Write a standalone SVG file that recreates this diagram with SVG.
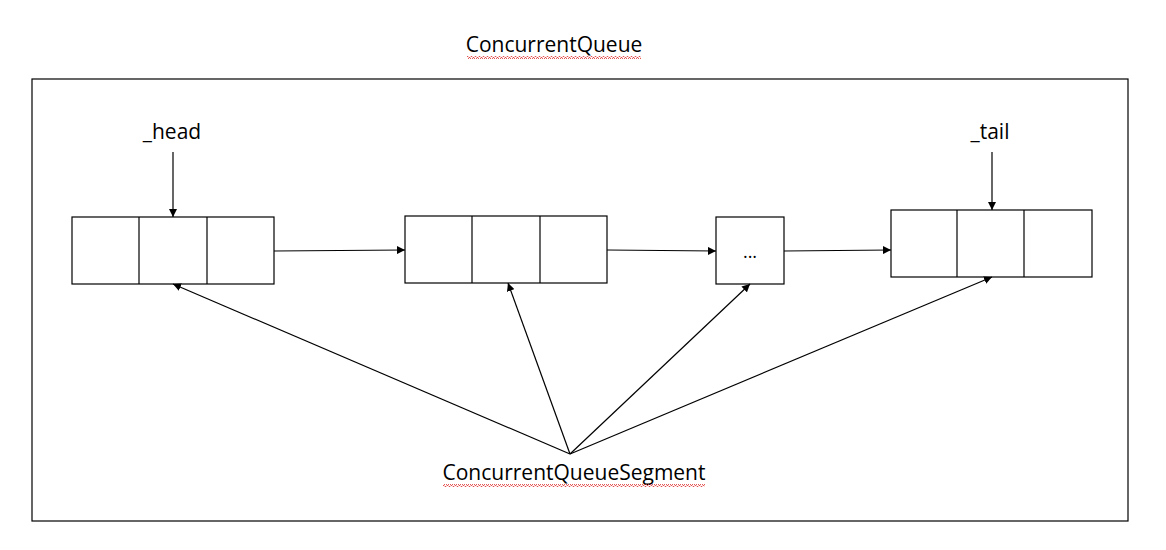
<svg xmlns="http://www.w3.org/2000/svg" width="1166" height="550" viewBox="0 0 1166 550">
<defs>
<marker id="arr" viewBox="0 0 10 10" refX="10" refY="5" markerWidth="8" markerHeight="8" markerUnits="userSpaceOnUse" orient="auto">
<path d="M0,0 L10,5 L0,10 z" fill="#000"/>
</marker>
<pattern id="squig" width="4" height="3" patternUnits="userSpaceOnUse">
<path d="M0,2.5 L1,0.5 L2,0.5 L3,2.5 L4,2.5" fill="none" stroke="#e03030" stroke-width="0.8"/>
</pattern>
</defs>
<style>
.box{fill:#fff;stroke:#000;stroke-width:1.2}
.ln{stroke:#000;stroke-width:1.2;fill:none}
.t{font-family:"Open Sans","Liberation Sans",sans-serif;font-size:21px;fill:#000}
</style>
<rect width="1166" height="550" fill="#fff"/>
<g id="title">
<text class="t" x="554" y="52" text-anchor="middle">ConcurrentQueue</text>
<rect x="467" y="56" width="174" height="3" fill="url(#squig)"/>
</g>
<g id="container"><rect class="box" x="32" y="79" width="1096" height="442"/></g>
<g id="head-label"><text class="t" x="172" y="139" text-anchor="middle">_head</text></g>
<g id="tail-label"><text class="t" x="990" y="139" text-anchor="middle">_tail</text></g>
<g id="seg1">
<rect class="box" x="72" y="217" width="202" height="67"/>
<line class="ln" x1="139" y1="217" x2="139" y2="284"/>
<line class="ln" x1="207" y1="217" x2="207" y2="284"/>
</g>
<g id="seg2">
<rect class="box" x="405" y="216" width="202" height="67"/>
<line class="ln" x1="472" y1="216" x2="472" y2="283"/>
<line class="ln" x1="540" y1="216" x2="540" y2="283"/>
</g>
<g id="seg-ellipsis">
<rect class="box" x="716" y="217" width="68" height="67"/>
<text class="t" x="750" y="258" text-anchor="middle" style="font-size:18px">...</text>
</g>
<g id="seg-tail">
<rect class="box" x="891" y="210" width="201" height="67"/>
<line class="ln" x1="957" y1="210" x2="957" y2="277"/>
<line class="ln" x1="1024" y1="210" x2="1024" y2="277"/>
</g>
<g id="segment-label">
<text class="t" x="574" y="480" text-anchor="middle">ConcurrentQueueSegment</text>
<rect x="443" y="484" width="262" height="3" fill="url(#squig)"/>
</g>
<g id="connectors">
<line class="ln" x1="173" y1="152" x2="173" y2="217" marker-end="url(#arr)"/>
<line class="ln" x1="992" y1="152" x2="992" y2="210" marker-end="url(#arr)"/>
<line class="ln" x1="274" y1="251" x2="405" y2="250" marker-end="url(#arr)"/>
<line class="ln" x1="607" y1="250" x2="716" y2="251" marker-end="url(#arr)"/>
<line class="ln" x1="784" y1="251" x2="891" y2="250" marker-end="url(#arr)"/>
<line class="ln" x1="570" y1="454" x2="173" y2="284" marker-end="url(#arr)"/>
<line class="ln" x1="570" y1="454" x2="508" y2="283" marker-end="url(#arr)"/>
<line class="ln" x1="570" y1="454" x2="750" y2="284" marker-end="url(#arr)"/>
<line class="ln" x1="570" y1="454" x2="992" y2="277" marker-end="url(#arr)"/>
</g>
</svg>
